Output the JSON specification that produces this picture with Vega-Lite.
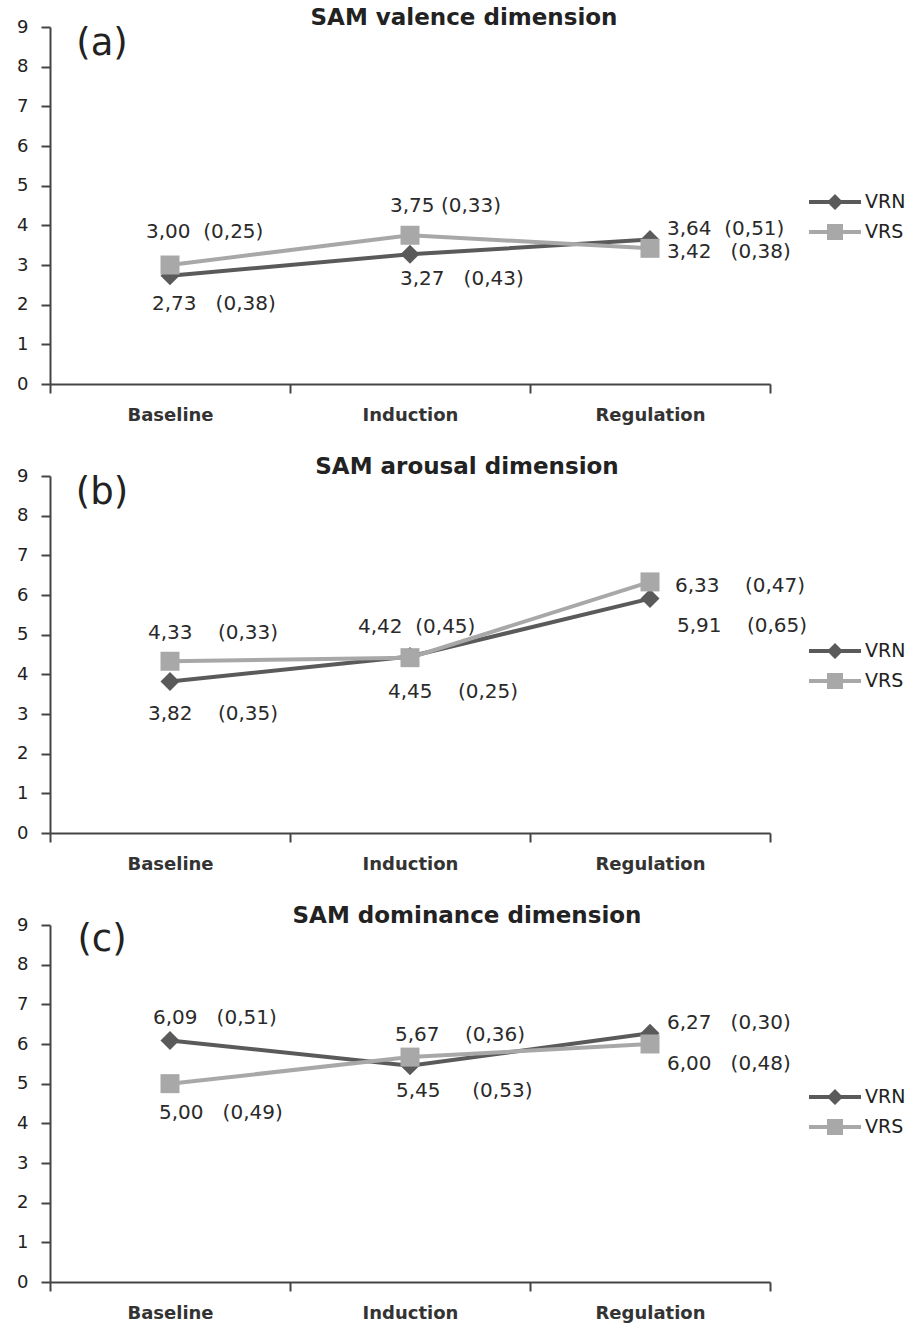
{
  "$schema": "https://vega.github.io/schema/vega-lite/v6.json",
  "background": "white",
  "padding": {"left": 16, "top": 7, "right": 5, "bottom": 5},
  "bounds": "flush",
  "spacing": 92,
  "datasets": {
    "sam": [
      {"panel": "a", "stage": "Baseline", "series": "VRN", "mean": 2.73, "sd": 0.38, "label": "2,73\u00a0\u00a0\u00a0(0,38)"},
      {"panel": "a", "stage": "Induction", "series": "VRN", "mean": 3.27, "sd": 0.43, "label": "3,27\u00a0\u00a0\u00a0(0,43)"},
      {"panel": "a", "stage": "Regulation", "series": "VRN", "mean": 3.64, "sd": 0.51, "label": "3,64\u00a0\u00a0(0,51)"},
      {"panel": "a", "stage": "Baseline", "series": "VRS", "mean": 3.00, "sd": 0.25, "label": "3,00\u00a0\u00a0(0,25)"},
      {"panel": "a", "stage": "Induction", "series": "VRS", "mean": 3.75, "sd": 0.33, "label": "3,75\u00a0(0,33)"},
      {"panel": "a", "stage": "Regulation", "series": "VRS", "mean": 3.42, "sd": 0.38, "label": "3,42\u00a0\u00a0\u00a0(0,38)"},
      {"panel": "b", "stage": "Baseline", "series": "VRN", "mean": 3.82, "sd": 0.35, "label": "3,82\u00a0\u00a0\u00a0\u00a0(0,35)"},
      {"panel": "b", "stage": "Induction", "series": "VRN", "mean": 4.45, "sd": 0.25, "label": "4,45\u00a0\u00a0\u00a0\u00a0(0,25)"},
      {"panel": "b", "stage": "Regulation", "series": "VRN", "mean": 5.91, "sd": 0.65, "label": "5,91\u00a0\u00a0\u00a0\u00a0(0,65)"},
      {"panel": "b", "stage": "Baseline", "series": "VRS", "mean": 4.33, "sd": 0.33, "label": "4,33\u00a0\u00a0\u00a0\u00a0(0,33)"},
      {"panel": "b", "stage": "Induction", "series": "VRS", "mean": 4.42, "sd": 0.45, "label": "4,42\u00a0\u00a0(0,45)"},
      {"panel": "b", "stage": "Regulation", "series": "VRS", "mean": 6.33, "sd": 0.47, "label": "6,33\u00a0\u00a0\u00a0\u00a0(0,47)"},
      {"panel": "c", "stage": "Baseline", "series": "VRN", "mean": 6.09, "sd": 0.51, "label": "6,09\u00a0\u00a0\u00a0(0,51)"},
      {"panel": "c", "stage": "Induction", "series": "VRN", "mean": 5.45, "sd": 0.53, "label": "5,45\u00a0\u00a0\u00a0\u00a0\u00a0(0,53)"},
      {"panel": "c", "stage": "Regulation", "series": "VRN", "mean": 6.27, "sd": 0.30, "label": "6,27\u00a0\u00a0\u00a0(0,30)"},
      {"panel": "c", "stage": "Baseline", "series": "VRS", "mean": 5.00, "sd": 0.49, "label": "5,00\u00a0\u00a0\u00a0(0,49)"},
      {"panel": "c", "stage": "Induction", "series": "VRS", "mean": 5.67, "sd": 0.36, "label": "5,67\u00a0\u00a0\u00a0\u00a0(0,36)"},
      {"panel": "c", "stage": "Regulation", "series": "VRS", "mean": 6.00, "sd": 0.48, "label": "6,00\u00a0\u00a0\u00a0(0,48)"}
    ]
  },
  "config": {
    "view": {"stroke": null},
    "axis": {"grid": false, "domainColor": "#444444", "tickColor": "#444444", "domainWidth": 2, "tickWidth": 2, "labelColor": "#222222", "labelFont": "DejaVu Sans"},
    "title": {"font": "DejaVu Sans", "fontSize": 23, "fontWeight": "bold", "color": "#222222", "anchor": "middle"},
    "text": {"font": "DejaVu Sans", "fontSize": 20, "color": "#2a2a2a", "align": "left", "baseline": "middle"}
  },
  "resolve": {"scale": {"color": "independent", "shape": "independent"}, "legend": {"color": "independent", "shape": "independent"}},
  "vconcat": [
    {
      "width": 720, "height": 357,
      "title": {"text": "SAM valence dimension", "dx": 54, "offset": -12},
      "data": {"name": "sam"},
      "transform": [{"filter": "datum.panel === 'a'"}],
      "encoding": {
        "x": {"field": "stage", "type": "nominal", "sort": ["Baseline", "Induction", "Regulation"], "scale": {"type": "band", "paddingInner": 0, "paddingOuter": 0}, "axis": {"title": null, "labelAngle": 0, "tickBand": "extent", "tickSize": 9, "labelPadding": 13, "labelFontSize": 18, "labelFontWeight": "bold", "labelColor": "#333333"}},
        "y": {"field": "mean", "type": "quantitative", "scale": {"domain": [0, 9], "nice": false}, "axis": {"title": null, "values": [0, 1, 2, 3, 4, 5, 6, 7, 8, 9], "tickSize": 9, "labelPadding": 13, "labelFontSize": 18}}
      },
      "layer": [
        {"mark": {"type": "line", "strokeWidth": 4}, "encoding": {"detail": {"field": "series", "type": "nominal"}, "color": {"condition": {"test": "datum.series === 'VRN'", "value": "#5a5a5a"}, "value": "#a8a8a8"}}},
        {"mark": {"type": "point", "filled": true, "size": 361, "opacity": 1}, "encoding": {"shape": {"condition": {"test": "datum.series === 'VRN'", "value": "diamond"}, "value": "square"}, "color": {"condition": {"test": "datum.series === 'VRN'", "value": "#5a5a5a"}, "value": "#a8a8a8"}}},
        {"mark": {"type": "point", "filled": true, "size": 1600, "opacity": 0},
         "encoding": {
           "color": {"field": "series", "type": "nominal", "scale": {"domain": ["VRN", "VRS"], "range": ["#5a5a5a", "#a8a8a8"]}, "legend": {"title": null, "orient": "none", "legendX": 765, "legendY": 155, "padding": 0, "rowPadding": 0, "symbolSize": 1600, "symbolStrokeWidth": 0, "symbolOpacity": 1, "labelFont": "DejaVu Sans", "labelFontSize": 19, "labelColor": "#222222", "labelOffset": 10}},
           "shape": {"field": "series", "type": "nominal", "scale": {"domain": ["VRN", "VRS"], "range": ["M-1.3,-0.1H-0.3L0,-0.4L0.3,-0.1H1.3V0.1H0.3L0,0.4L-0.3,0.1H-1.3Z", "M-1.3,-0.1H-0.4V-0.4H0.4V-0.1H1.3V0.1H0.4V0.4H-0.4V0.1H-1.3Z"]}, "legend": {"title": null, "orient": "none", "legendX": 765, "legendY": 155, "padding": 0, "rowPadding": 0, "symbolSize": 1600, "symbolStrokeWidth": 0, "symbolOpacity": 1, "labelFont": "DejaVu Sans", "labelFontSize": 19, "labelColor": "#222222", "labelOffset": 10}}
         }},
        {"mark": {"type": "text", "text": "(a)", "fontSize": 37, "align": "center", "dx": -68, "color": "#222222"}, "transform": [{"filter": "datum.series === 'VRN' && datum.stage === 'Baseline'"}], "encoding": {"x": {"datum": "Baseline", "type": "nominal"}, "y": {"datum": 8.57, "type": "quantitative"}}},
        {"mark": {"type": "text", "dx": -24, "dy": -33}, "transform": [{"filter": "datum.series === 'VRS' && datum.stage === 'Baseline'"}], "encoding": {"text": {"field": "label", "type": "nominal"}}},
        {"mark": {"type": "text", "dx": -20, "dy": -29}, "transform": [{"filter": "datum.series === 'VRS' && datum.stage === 'Induction'"}], "encoding": {"text": {"field": "label", "type": "nominal"}}},
        {"mark": {"type": "text", "dx": -18, "dy": 28}, "transform": [{"filter": "datum.series === 'VRN' && datum.stage === 'Baseline'"}], "encoding": {"text": {"field": "label", "type": "nominal"}}},
        {"mark": {"type": "text", "dx": -10, "dy": 25}, "transform": [{"filter": "datum.series === 'VRN' && datum.stage === 'Induction'"}], "encoding": {"text": {"field": "label", "type": "nominal"}}},
        {"mark": {"type": "text", "dx": 17, "dy": -11}, "transform": [{"filter": "datum.series === 'VRN' && datum.stage === 'Regulation'"}], "encoding": {"text": {"field": "label", "type": "nominal"}}},
        {"mark": {"type": "text", "dx": 17, "dy": 4}, "transform": [{"filter": "datum.series === 'VRS' && datum.stage === 'Regulation'"}], "encoding": {"text": {"field": "label", "type": "nominal"}}}
      ]
    },
    {
      "width": 720, "height": 357,
      "title": {"text": "SAM arousal dimension", "dx": 57, "offset": -12},
      "data": {"name": "sam"},
      "transform": [{"filter": "datum.panel === 'b'"}],
      "encoding": {
        "x": {"field": "stage", "type": "nominal", "sort": ["Baseline", "Induction", "Regulation"], "scale": {"type": "band", "paddingInner": 0, "paddingOuter": 0}, "axis": {"title": null, "labelAngle": 0, "tickBand": "extent", "tickSize": 9, "labelPadding": 13, "labelFontSize": 18, "labelFontWeight": "bold", "labelColor": "#333333"}},
        "y": {"field": "mean", "type": "quantitative", "scale": {"domain": [0, 9], "nice": false}, "axis": {"title": null, "values": [0, 1, 2, 3, 4, 5, 6, 7, 8, 9], "tickSize": 9, "labelPadding": 13, "labelFontSize": 18}}
      },
      "layer": [
        {"mark": {"type": "line", "strokeWidth": 4}, "encoding": {"detail": {"field": "series", "type": "nominal"}, "color": {"condition": {"test": "datum.series === 'VRN'", "value": "#5a5a5a"}, "value": "#a8a8a8"}}},
        {"mark": {"type": "point", "filled": true, "size": 361, "opacity": 1}, "encoding": {"shape": {"condition": {"test": "datum.series === 'VRN'", "value": "diamond"}, "value": "square"}, "color": {"condition": {"test": "datum.series === 'VRN'", "value": "#5a5a5a"}, "value": "#a8a8a8"}}},
        {"mark": {"type": "point", "filled": true, "size": 1600, "opacity": 0},
         "encoding": {
           "color": {"field": "series", "type": "nominal", "scale": {"domain": ["VRN", "VRS"], "range": ["#5a5a5a", "#a8a8a8"]}, "legend": {"title": null, "orient": "none", "legendX": 765, "legendY": 155, "padding": 0, "rowPadding": 0, "symbolSize": 1600, "symbolStrokeWidth": 0, "symbolOpacity": 1, "labelFont": "DejaVu Sans", "labelFontSize": 19, "labelColor": "#222222", "labelOffset": 10}},
           "shape": {"field": "series", "type": "nominal", "scale": {"domain": ["VRN", "VRS"], "range": ["M-1.3,-0.1H-0.3L0,-0.4L0.3,-0.1H1.3V0.1H0.3L0,0.4L-0.3,0.1H-1.3Z", "M-1.3,-0.1H-0.4V-0.4H0.4V-0.1H1.3V0.1H0.4V0.4H-0.4V0.1H-1.3Z"]}, "legend": {"title": null, "orient": "none", "legendX": 765, "legendY": 155, "padding": 0, "rowPadding": 0, "symbolSize": 1600, "symbolStrokeWidth": 0, "symbolOpacity": 1, "labelFont": "DejaVu Sans", "labelFontSize": 19, "labelColor": "#222222", "labelOffset": 10}}
         }},
        {"mark": {"type": "text", "text": "(b)", "fontSize": 37, "align": "center", "dx": -68, "color": "#222222"}, "transform": [{"filter": "datum.series === 'VRN' && datum.stage === 'Baseline'"}], "encoding": {"x": {"datum": "Baseline", "type": "nominal"}, "y": {"datum": 8.57, "type": "quantitative"}}},
        {"mark": {"type": "text", "dx": -22, "dy": -28}, "transform": [{"filter": "datum.series === 'VRS' && datum.stage === 'Baseline'"}], "encoding": {"text": {"field": "label", "type": "nominal"}}},
        {"mark": {"type": "text", "dx": -52, "dy": -31}, "transform": [{"filter": "datum.series === 'VRS' && datum.stage === 'Induction'"}], "encoding": {"text": {"field": "label", "type": "nominal"}}},
        {"mark": {"type": "text", "dx": -22, "dy": 33}, "transform": [{"filter": "datum.series === 'VRN' && datum.stage === 'Baseline'"}], "encoding": {"text": {"field": "label", "type": "nominal"}}},
        {"mark": {"type": "text", "dx": -22, "dy": 36}, "transform": [{"filter": "datum.series === 'VRN' && datum.stage === 'Induction'"}], "encoding": {"text": {"field": "label", "type": "nominal"}}},
        {"mark": {"type": "text", "dx": 27, "dy": 27}, "transform": [{"filter": "datum.series === 'VRN' && datum.stage === 'Regulation'"}], "encoding": {"text": {"field": "label", "type": "nominal"}}},
        {"mark": {"type": "text", "dx": 25, "dy": 4}, "transform": [{"filter": "datum.series === 'VRS' && datum.stage === 'Regulation'"}], "encoding": {"text": {"field": "label", "type": "nominal"}}}
      ]
    },
    {
      "width": 720, "height": 357,
      "title": {"text": "SAM dominance dimension", "dx": 57, "offset": -12},
      "data": {"name": "sam"},
      "transform": [{"filter": "datum.panel === 'c'"}],
      "encoding": {
        "x": {"field": "stage", "type": "nominal", "sort": ["Baseline", "Induction", "Regulation"], "scale": {"type": "band", "paddingInner": 0, "paddingOuter": 0}, "axis": {"title": null, "labelAngle": 0, "tickBand": "extent", "tickSize": 9, "labelPadding": 13, "labelFontSize": 18, "labelFontWeight": "bold", "labelColor": "#333333"}},
        "y": {"field": "mean", "type": "quantitative", "scale": {"domain": [0, 9], "nice": false}, "axis": {"title": null, "values": [0, 1, 2, 3, 4, 5, 6, 7, 8, 9], "tickSize": 9, "labelPadding": 13, "labelFontSize": 18}}
      },
      "layer": [
        {"mark": {"type": "line", "strokeWidth": 4}, "encoding": {"detail": {"field": "series", "type": "nominal"}, "color": {"condition": {"test": "datum.series === 'VRN'", "value": "#5a5a5a"}, "value": "#a8a8a8"}}},
        {"mark": {"type": "point", "filled": true, "size": 361, "opacity": 1}, "encoding": {"shape": {"condition": {"test": "datum.series === 'VRN'", "value": "diamond"}, "value": "square"}, "color": {"condition": {"test": "datum.series === 'VRN'", "value": "#5a5a5a"}, "value": "#a8a8a8"}}},
        {"mark": {"type": "point", "filled": true, "size": 1600, "opacity": 0},
         "encoding": {
           "color": {"field": "series", "type": "nominal", "scale": {"domain": ["VRN", "VRS"], "range": ["#5a5a5a", "#a8a8a8"]}, "legend": {"title": null, "orient": "none", "legendX": 765, "legendY": 152, "padding": 0, "rowPadding": 0, "symbolSize": 1600, "symbolStrokeWidth": 0, "symbolOpacity": 1, "labelFont": "DejaVu Sans", "labelFontSize": 19, "labelColor": "#222222", "labelOffset": 10}},
           "shape": {"field": "series", "type": "nominal", "scale": {"domain": ["VRN", "VRS"], "range": ["M-1.3,-0.1H-0.3L0,-0.4L0.3,-0.1H1.3V0.1H0.3L0,0.4L-0.3,0.1H-1.3Z", "M-1.3,-0.1H-0.4V-0.4H0.4V-0.1H1.3V0.1H0.4V0.4H-0.4V0.1H-1.3Z"]}, "legend": {"title": null, "orient": "none", "legendX": 765, "legendY": 152, "padding": 0, "rowPadding": 0, "symbolSize": 1600, "symbolStrokeWidth": 0, "symbolOpacity": 1, "labelFont": "DejaVu Sans", "labelFontSize": 19, "labelColor": "#222222", "labelOffset": 10}}
         }},
        {"mark": {"type": "text", "text": "(c)", "fontSize": 37, "align": "center", "dx": -68, "color": "#222222"}, "transform": [{"filter": "datum.series === 'VRN' && datum.stage === 'Baseline'"}], "encoding": {"x": {"datum": "Baseline", "type": "nominal"}, "y": {"datum": 8.62, "type": "quantitative"}}},
        {"mark": {"type": "text", "dx": -17, "dy": -22}, "transform": [{"filter": "datum.series === 'VRN' && datum.stage === 'Baseline'"}], "encoding": {"text": {"field": "label", "type": "nominal"}}},
        {"mark": {"type": "text", "dx": -11, "dy": 29}, "transform": [{"filter": "datum.series === 'VRS' && datum.stage === 'Baseline'"}], "encoding": {"text": {"field": "label", "type": "nominal"}}},
        {"mark": {"type": "text", "dx": -15, "dy": -22}, "transform": [{"filter": "datum.series === 'VRS' && datum.stage === 'Induction'"}], "encoding": {"text": {"field": "label", "type": "nominal"}}},
        {"mark": {"type": "text", "dx": -14, "dy": 25}, "transform": [{"filter": "datum.series === 'VRN' && datum.stage === 'Induction'"}], "encoding": {"text": {"field": "label", "type": "nominal"}}},
        {"mark": {"type": "text", "dx": 17, "dy": -10}, "transform": [{"filter": "datum.series === 'VRN' && datum.stage === 'Regulation'"}], "encoding": {"text": {"field": "label", "type": "nominal"}}},
        {"mark": {"type": "text", "dx": 17, "dy": 20}, "transform": [{"filter": "datum.series === 'VRS' && datum.stage === 'Regulation'"}], "encoding": {"text": {"field": "label", "type": "nominal"}}}
      ]
    }
  ]
}
